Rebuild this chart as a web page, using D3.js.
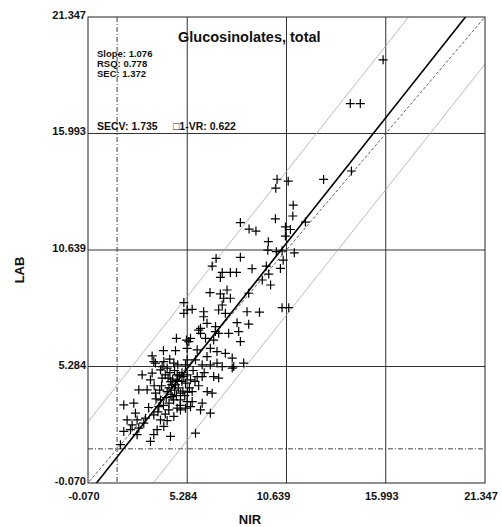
<!DOCTYPE html>
<html>
<head>
<meta charset="utf-8">
<script src="https://cdn.jsdelivr.net/npm/d3@7"></script>
<style>
  body { margin:0; background:#fff; }
  .canvas { width:502px; height:527px; }
  text { font-family:"Liberation Sans", Arial, sans-serif; fill:#111; }
</style>
</head>
<body>
<div class="canvas" id="canvas"></div>
<script>
// --- data (NIR, LAB)
var points = [
  [15.85,19.38],[14.08,17.37],[14.62,17.37],[14.14,14.27],[12.64,13.88],
  [10.13,13.89],[10.73,13.8],[10.06,13.48],[11.0,12.7],[10.98,12.2],[10.04,12.07],[11.66,11.92],
  [8.15,11.9],[8.62,11.6],[8.99,11.51],[10.58,11.7],[10.85,11.58],[10.58,11.28],[9.66,11.02],
  [9.63,10.63],[10.09,10.56],[10.4,10.6],[11.06,10.51],[6.84,10.25],[8.15,10.3],[10.46,10.17],
  [6.63,9.9],[8.78,9.78],[9.55,9.9],[10.31,9.79],[7.17,9.61],[7.61,9.61],[7.94,9.61],[9.68,9.53],[7.07,9.38],
  [9.33,9.26],[9.78,9.03],[6.51,8.68],[7.07,8.62],[7.43,8.8],[7.25,8.42],[7.61,8.42],[8.6,8.65],
  [7.17,8.11],[6.98,7.88],[5.1,8.22],[5.28,7.88],[5.55,7.91],[6.17,7.8],[6.17,7.57],[7.34,7.73],
  [8.51,7.8],[9.18,7.78],[10.4,7.99],[10.76,7.99],[7.97,7.3],[8.6,7.23],[6.35,7.27],[6.0,7.04],
  [6.81,7.12],[6.98,6.81],[7.52,6.81],[8.06,6.89],[5.46,6.58],[5.37,6.43],[6.0,6.81],[6.27,6.58],
  [6.71,6.5],[8.15,6.43],[5.28,6.12],[5.82,6.05],[6.53,6.12],[6.89,5.97],[7.34,5.89],[7.71,5.67],
  [6.35,5.74],[5.28,5.59],[5.73,5.59],[6.89,5.44],[8.33,5.44],[7.79,5.28],[5.19,5.36],[6.09,5.36],
  [6.53,5.36],[5.1,7.73],
  [4.7,6.58],[5.24,6.5],[4.0,6.01],[4.65,6.01],[3.39,5.77],[4.34,5.62],[3.57,5.44],[3.93,5.28],[4.77,5.36],
  [2.85,4.9],[3.39,4.98],[3.3,4.67],[4.56,5.44],[4.2,5.21],[4.74,4.9],[5.28,4.9],[4.38,4.59],[4.65,4.44],
  [5.19,4.52],[2.67,4.21],[3.12,4.21],[3.57,4.06],[4.2,4.13],[4.92,4.06],[4.47,3.9],[3.84,3.75],
  [4.92,3.75],[5.28,3.67],[1.86,3.52],[2.4,3.6],[3.75,3.44],[4.74,3.37],[5.19,3.37],[4.29,3.29],
  [2.49,3.14],[3.48,3.06],[4.56,2.99],[2.04,2.83],[2.58,2.83],[3.03,2.91],[3.84,2.83],[2.31,2.6],
  [2.94,2.68],[2.22,2.38],[2.67,2.45],[4.02,2.53],[1.86,2.3],[3.66,2.38],[2.58,2.15],[3.48,2.15],
  [3.3,1.84],[4.38,2.07],[1.68,1.69],
  [7.71,5.21],[7.17,5.28],[5.82,4.82],[6.71,4.82],[6.98,4.75],[6.36,4.13],[6.63,4.06],[5.55,4.13],
  [5.55,3.67],[6.09,3.6],[5.46,3.44],[6.0,3.29],[6.53,3.14],[5.73,2.22],
  [5.9,6.96],[6.8,6.89],[3.48,5.51],[4.02,5.51],[3.84,5.13],[3.93,4.75],[5.1,4.82],[5.46,4.67],
  [6.09,4.82],[4.92,3.29],
  [4.3,4.3],[4.5,4.7],[4.8,4.3],[4.1,4.9],[5.0,5.0],[4.6,5.1],[4.4,4.0],[4.0,3.5],[4.3,3.6],
  [4.9,3.5],[3.9,4.4],[5.4,4.3],[5.0,4.6],[5.6,5.1],[3.6,3.8],[4.1,3.1],[3.2,3.4],[3.5,4.4],
  [5.9,4.4],[6.2,5.0],
  [4.45,4.45],[4.6,4.2],[4.75,4.65],[4.25,4.75],[4.85,4.85],[4.55,3.75],[4.15,3.85],[4.7,3.95],
  [5.05,4.15],[5.15,3.95],[4.35,5.0],[3.8,4.2],[3.7,3.2],[4.2,2.8],[5.3,4.1],[5.7,4.6]
];

var ticks = [-0.070, 5.284, 10.639, 15.993, 21.347];
var tickLabels = ["-0.070", "5.284", "10.639", "15.993", "21.347"];
var limitLine = 1.5;          // dashed cut-off lines on both axes
var slope = 1.076, intercept = -0.49;
var band = 3.3;               // offset of the grey limit lines
var statLines = ["Slope: 1.076", "RSQ: 0.778", "SEC: 1.372"];
var secvText = "SECV: 1.735", vrText = "\u25A11-VR: 0.622";
var title = "Glucosinolates, total";

// --- margin convention
var M = {top:17, right:17, bottom:44, left:88};
var outerWidth = 502, outerHeight = 527;
var w = outerWidth - M.left - M.right,
    h = outerHeight - M.top - M.bottom;

var svg = d3.select('.canvas')
    .append('svg')
    .attr('width', outerWidth)
    .attr('height', outerHeight);

var plot = svg.append('g')
    .attr('transform', 'translate(' + M.left + ',' + M.top + ')');

var x = d3.scaleLinear().domain([ticks[0], ticks[4]]).range([0, w]);
var y = d3.scaleLinear().domain([ticks[0], ticks[4]]).range([h, 0]);

plot.append('clipPath').attr('id', 'clip')
    .append('rect').attr('width', w).attr('height', h);

// --- grid
var inner = ticks.slice(1, 4);
plot.selectAll('.vgrid').data(inner).enter().append('line')
    .attr('x1', function(d){ return x(d); }).attr('x2', function(d){ return x(d); })
    .attr('y1', 0).attr('y2', h)
    .style('stroke', '#333').style('stroke-width', 1);
plot.selectAll('.hgrid').data(inner).enter().append('line')
    .attr('y1', function(d){ return y(d); }).attr('y2', function(d){ return y(d); })
    .attr('x1', 0).attr('x2', w)
    .style('stroke', '#333').style('stroke-width', 1);

// dashed limit lines
plot.append('line')
    .attr('x1', x(limitLine)).attr('x2', x(limitLine)).attr('y1', 0).attr('y2', h)
    .style('stroke', '#444').style('stroke-dasharray', '5,2,1,2');
plot.append('line')
    .attr('y1', y(limitLine)).attr('y2', y(limitLine)).attr('x1', 0).attr('x2', w)
    .style('stroke', '#444').style('stroke-dasharray', '5,2,1,2');

// --- diagonal lines
var lines = plot.append('g').attr('clip-path', 'url(#clip)');
var lx = d3.line()
    .x(function(d){ return x(d[0]); })
    .y(function(d){ return y(d[1]); });
var xs = [ticks[0] - 5, ticks[4] + 5];

function fitLine(off) {
  return xs.map(function(v){ return [v, slope * v + intercept + off]; });
}

lines.append('path').datum(fitLine(band)).attr('d', lx)
    .style('fill', 'none').style('stroke', '#aaa').style('stroke-width', 0.8);
lines.append('path').datum(fitLine(-band)).attr('d', lx)
    .style('fill', 'none').style('stroke', '#aaa').style('stroke-width', 0.8);
lines.append('path').datum(xs.map(function(v){ return [v, v]; })).attr('d', lx)
    .style('fill', 'none').style('stroke', '#333').style('stroke-width', 0.8)
    .style('stroke-dasharray', '3,2');
lines.append('path').datum(fitLine(0)).attr('d', lx)
    .style('fill', 'none').style('stroke', '#000').style('stroke-width', 1.6);

// --- frame
plot.append('rect').attr('width', w).attr('height', h)
    .style('fill', 'none').style('stroke', '#222').style('stroke-width', 1);

// --- points as crosses
var s = 4.5;
plot.selectAll('.pt').data(points).enter().append('path')
    .attr('d', function(d){
      var cx = x(d[0]), cy = y(d[1]);
      return 'M' + (cx - s) + ',' + cy + 'H' + (cx + s) + 'M' + cx + ',' + (cy - s) + 'V' + (cy + s);
    })
    .style('stroke', '#000').style('stroke-width', 1.2).style('fill', 'none');

// --- tick labels
var nudge = {"10.639": -9};
plot.selectAll('.xl').data(ticks).enter().append('text')
    .attr('x', function(d, i){ return x(d) - 4 + (nudge[tickLabels[i]] || 0); })
    .attr('y', h + 17)
    .attr('text-anchor', 'middle')
    .style('font-size', '11px').style('font-weight', 'bold')
    .text(function(d, i){ return tickLabels[i]; });
plot.selectAll('.yl').data(ticks).enter().append('text')
    .attr('x', -2)
    .attr('y', function(d){ return y(d) + 2; })
    .attr('text-anchor', 'end')
    .style('font-size', '11px').style('font-weight', 'bold')
    .text(function(d, i){ return tickLabels[i]; });

// --- axis titles
svg.append('text')
    .attr('x', 250).attr('y', 524)
    .attr('text-anchor', 'middle')
    .style('font-size', '13px').style('font-weight', 'bold')
    .text('NIR');
svg.append('text')
    .attr('transform', 'translate(24,' + (M.top + h / 2 + 20) + ') rotate(-90)')
    .attr('text-anchor', 'middle')
    .style('font-size', '13px').style('font-weight', 'bold')
    .text('LAB');

// --- title and stats
plot.append('text')
    .attr('x', 90).attr('y', 25)
    .style('font-size', '14.5px').style('font-weight', 'bold')
    .text(title);
plot.selectAll('.stat').data(statLines).enter().append('text')
    .attr('x', 9)
    .attr('y', function(d, i){ return 39.5 + i * 10; })
    .style('font-size', '9.5px').style('font-weight', 'bold')
    .text(function(d){ return d; });
plot.append('text')
    .attr('x', 9).attr('y', 113)
    .style('font-size', '10.5px').style('font-weight', 'bold')
    .text(secvText);
plot.append('text')
    .attr('x', 85).attr('y', 113)
    .style('font-size', '10.5px').style('font-weight', 'bold')
    .text(vrText);
</script>
</body>
</html>
